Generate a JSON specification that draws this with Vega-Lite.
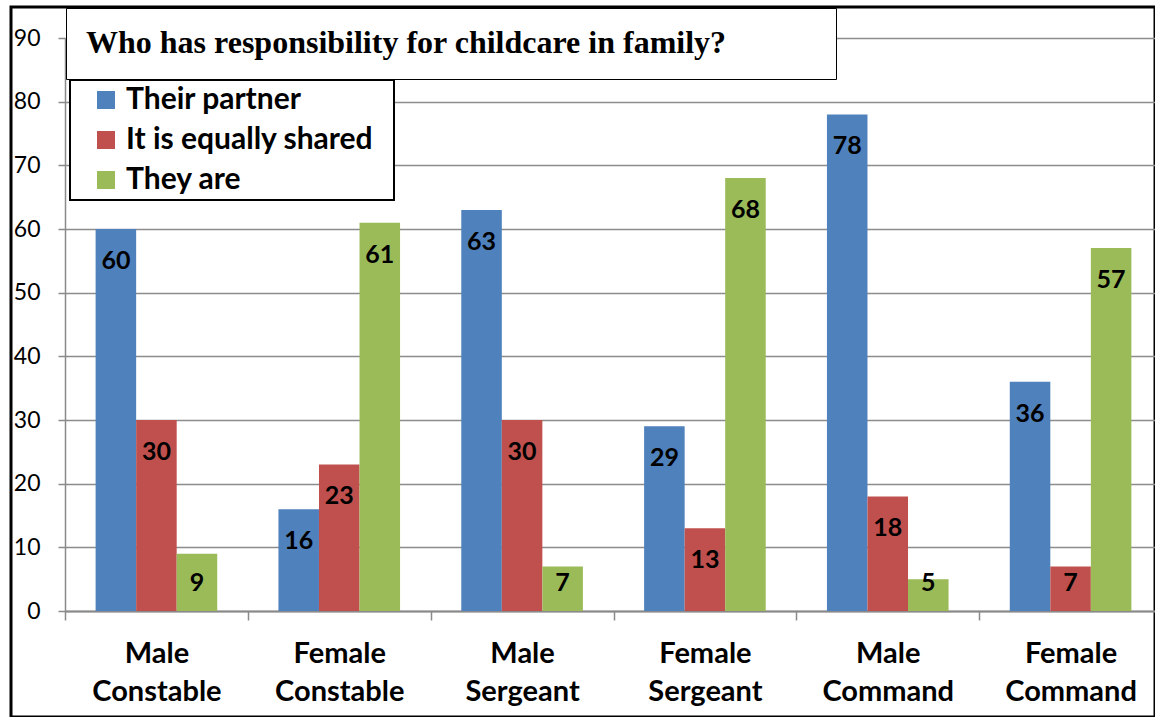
{
  "$schema": "https://vega.github.io/schema/vega-lite/v6.json",
  "width": 1144,
  "height": 710,
  "autosize": {"type": "none"},
  "padding": {"left": 11, "top": 7, "right": 0, "bottom": 0},
  "background": "white",
  "config": {
    "view": {"stroke": "black", "strokeWidth": 3},
    "font": "Lato"
  },
  "data": {
    "values": [
      {"group": "Male Constable", "series": "Their partner", "value": 60},
      {"group": "Male Constable", "series": "It is equally shared", "value": 30},
      {"group": "Male Constable", "series": "They are", "value": 9},
      {"group": "Female Constable", "series": "Their partner", "value": 16},
      {"group": "Female Constable", "series": "It is equally shared", "value": 23},
      {"group": "Female Constable", "series": "They are", "value": 61},
      {"group": "Male Sergeant", "series": "Their partner", "value": 63},
      {"group": "Male Sergeant", "series": "It is equally shared", "value": 30},
      {"group": "Male Sergeant", "series": "They are", "value": 7},
      {"group": "Female Sergeant", "series": "Their partner", "value": 29},
      {"group": "Female Sergeant", "series": "It is equally shared", "value": 13},
      {"group": "Female Sergeant", "series": "They are", "value": 68},
      {"group": "Male Command", "series": "Their partner", "value": 78},
      {"group": "Male Command", "series": "It is equally shared", "value": 18},
      {"group": "Male Command", "series": "They are", "value": 5},
      {"group": "Female Command", "series": "Their partner", "value": 36},
      {"group": "Female Command", "series": "It is equally shared", "value": 7},
      {"group": "Female Command", "series": "They are", "value": 57}
    ]
  },
  "layer": [
    {
      "mark": {"type": "bar"},
      "encoding": {
        "x": {
          "field": "group", "type": "nominal",
          "sort": ["Male Constable", "Female Constable", "Male Sergeant", "Female Sergeant", "Male Command", "Female Command"],
          "scale": {"range": [54, 1151], "paddingInner": 0, "paddingOuter": 0},
          "axis": {
            "orient": "bottom", "offset": -106, "title": null, "tickBand": "extent",
            "tickSize": 9, "tickColor": "#8a8a8a", "tickWidth": 1.5,
            "domainColor": "#8a8a8a", "domainWidth": 2,
            "labelExpr": "split(datum.label, ' ')",
            "labelFont": "Lato", "labelFontWeight": "bold", "labelFontSize": 29,
            "labelLineHeight": 38, "labelColor": "black", "labelPadding": 19,
            "labelAngle": 0, "grid": false
          }
        },
        "xOffset": {
          "field": "series", "type": "nominal",
          "sort": ["Their partner", "It is equally shared", "They are"],
          "scale": {"paddingInner": 0, "paddingOuter": 0.755}
        },
        "y": {
          "field": "value", "type": "quantitative",
          "scale": {"domain": [0, 90], "range": [604, 31], "nice": false},
          "axis": {
            "orient": "left", "offset": -54, "title": null,
            "values": [0, 10, 20, 30, 40, 50, 60, 70, 80, 90],
            "tickSize": 7, "tickColor": "#8a8a8a", "tickWidth": 1.5,
            "domainColor": "#8a8a8a", "domainWidth": 1.5,
            "grid": true, "gridColor": "#8c8c8c", "gridWidth": 1.5,
            "labelFont": "Lato", "labelFontSize": 23, "labelColor": "black",
            "labelPadding": 18
          }
        },
        "color": {
          "field": "series", "type": "nominal",
          "scale": {
            "domain": ["Their partner", "It is equally shared", "They are"],
            "range": ["#4F81BD", "#C0504D", "#9BBB59"]
          },
          "legend": {
            "title": ".", "titleOrient": "right", "titleColor": "white",
            "titleFontSize": 8, "titlePadding": 14,
            "orient": "none", "legendX": 59, "legendY": 73,
            "symbolType": "square", "symbolSize": 324, "symbolStrokeWidth": 0,
            "labelFont": "Lato", "labelFontWeight": "bold", "labelFontSize": 30,
            "labelColor": "black", "labelLimit": 500, "rowPadding": 10,
            "padding": 5, "symbolOffset": 16, "labelOffset": 5,
            "fillColor": "white", "strokeColor": "black",
            "encode": {"legend": {"update": {"strokeWidth": {"value": 2}}}}
          }
        },
        "opacity": {
          "datum": "title",
          "type": "ordinal",
          "scale": {"range": [1]},
          "legend": {
            "title": "Who has responsibility for childcare in family?",
            "titleOrient": "left", "titlePadding": 88,
            "titleFont": "Liberation Serif", "titleFontWeight": "bold", "titleFontSize": 32,
            "titleColor": "black", "titleLimit": 2000, "titleBaseline": "top",
            "orient": "none", "legendX": 55, "legendY": 1,
            "padding": 20, "symbolSize": 0, "symbolOpacity": 0, "symbolStrokeWidth": 0,
            "symbolOffset": 0, "labelOffset": 0, "labelFontSize": 1,
            "labelExpr": "''",
            "fillColor": "white", "strokeColor": "black",
            "encode": {"legend": {"update": {"strokeWidth": {"value": 2}}}}
          }
        }
      }
    },
    {
      "mark": {"type": "text", "font": "Lato", "fontWeight": "bold", "fontSize": 25, "color": "black", "baseline": "middle", "align": "center"},
      "encoding": {
        "x": {
          "field": "group", "type": "nominal",
          "sort": ["Male Constable", "Female Constable", "Male Sergeant", "Female Sergeant", "Male Command", "Female Command"]
        },
        "xOffset": {
          "field": "series", "type": "nominal",
          "sort": ["Their partner", "It is equally shared", "They are"]
        },
        "y": {
          "field": "value", "type": "quantitative",
          "scale": {"domain": [9.4, 90], "range": [576, 63], "clamp": true, "nice": false, "zero": false},
          "axis": null
        },
        "text": {"field": "value", "type": "quantitative"}
      }
    }
  ],
  "resolve": {"scale": {"y": "independent"}}
}
